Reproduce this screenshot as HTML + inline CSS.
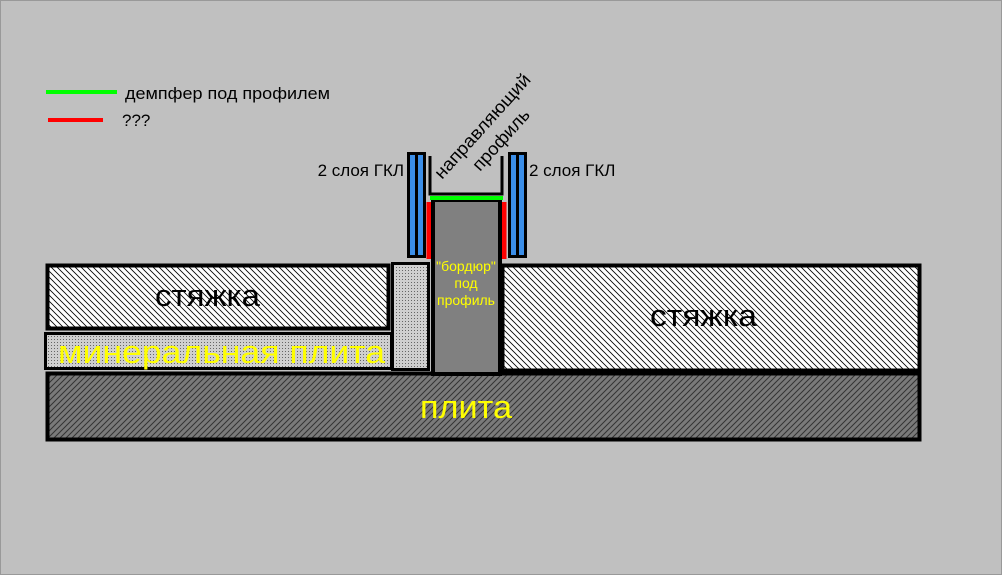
<!DOCTYPE html>
<html><head><meta charset="utf-8"><style>
html,body{margin:0;padding:0;background:#c0c0c0;}
svg{display:block;font-family:"Liberation Sans","DejaVu Sans",sans-serif;}
</style></head><body>
<svg width="1002" height="575" viewBox="0 0 1002 575" xmlns="http://www.w3.org/2000/svg">
<defs>
<pattern id="hw" width="6" height="6" patternUnits="userSpaceOnUse">
<rect width="6" height="6" fill="#fff"/>
<path d="M0,0 L6,6 M-3,3 L3,9 M3,-3 L9,3" stroke="#000" stroke-width="0.8"/>
</pattern>
<pattern id="hd" width="6" height="6" patternUnits="userSpaceOnUse">
<rect width="6" height="6" fill="#7a7a7a"/>
<path d="M0,6 L6,0 M-3,3 L3,-3 M3,9 L9,3" stroke="#333" stroke-width="1"/>
</pattern>
<pattern id="dt" width="3" height="3" patternUnits="userSpaceOnUse">
<rect width="3" height="3" fill="#cfcfcf"/>
<rect x="0" y="0" width="1" height="1" fill="#666"/>
</pattern>
</defs>
<rect x="0.5" y="0.5" width="1001" height="574" fill="#c0c0c0" stroke="#999"/>
<!-- legend -->
<line x1="46" y1="92" x2="117" y2="92" stroke="#00ff00" stroke-width="4"/>
<line x1="48" y1="120" x2="103" y2="120" stroke="#ff0000" stroke-width="4"/>
<text x="125" y="99" font-size="17" fill="#000" textLength="205" lengthAdjust="spacingAndGlyphs">демпфер под профилем</text>
<text x="122" y="126" font-size="17" fill="#000">???</text>
<!-- plita -->
<rect x="47.5" y="373.5" width="872" height="66" fill="url(#hd)" stroke="#000" stroke-width="4"/>
<text x="420" y="418" font-size="32" fill="#ffff00" textLength="92" lengthAdjust="spacingAndGlyphs">плита</text>
<!-- left screed -->
<rect x="47.5" y="265.5" width="341" height="63" fill="url(#hw)" stroke="#000" stroke-width="4"/>
<text x="155" y="306" font-size="31" fill="#000" textLength="105" lengthAdjust="spacingAndGlyphs">стяжка</text>
<!-- mineral -->
<rect x="45.5" y="333.5" width="346" height="35" fill="url(#dt)" stroke="#000" stroke-width="3"/>
<text x="58" y="363" font-size="32" fill="#ffff00" textLength="327" lengthAdjust="spacingAndGlyphs">минеральная  плита</text>
<!-- dotted column -->
<rect x="392.5" y="263.5" width="36" height="106" fill="url(#dt)" stroke="#000" stroke-width="3"/>
<!-- right screed -->
<rect x="502.5" y="265.5" width="417" height="105" fill="url(#hw)" stroke="#000" stroke-width="4"/>
<text x="650" y="326" font-size="31" fill="#000" textLength="107" lengthAdjust="spacingAndGlyphs">стяжка</text>
<!-- border -->
<rect x="433" y="200" width="67" height="174" fill="#808080" stroke="#000" stroke-width="4"/>
<text x="466" y="271" font-size="14" fill="#ffff00" text-anchor="middle">"бордюр"</text>
<text x="466" y="288" font-size="14" fill="#ffff00" text-anchor="middle">под</text>
<text x="466" y="305" font-size="14" fill="#ffff00" text-anchor="middle">профиль</text>
<!-- GKL left -->
<rect x="407" y="152" width="19" height="106" fill="#000"/>
<rect x="410" y="155" width="5" height="100" fill="#3b8ee8"/>
<rect x="418" y="155" width="5" height="100" fill="#3b8ee8"/>
<!-- GKL right -->
<rect x="508" y="152" width="19" height="106" fill="#000"/>
<rect x="511" y="155" width="5" height="100" fill="#3b8ee8"/>
<rect x="519" y="155" width="5" height="100" fill="#3b8ee8"/>
<!-- channel -->
<path d="M430,156 V194 H502 V156" fill="none" stroke="#000" stroke-width="3"/>
<line x1="430" y1="198" x2="503" y2="198" stroke="#00ff00" stroke-width="4"/>
<rect x="426.5" y="202" width="4.5" height="57" fill="#ff0000"/>
<rect x="502" y="202" width="4.5" height="57" fill="#ff0000"/>
<!-- labels -->
<text x="404" y="176" font-size="17" fill="#000" text-anchor="end">2 слоя ГКЛ</text>
<text x="529" y="176" font-size="17" fill="#000">2 слоя ГКЛ</text>
<text transform="translate(442,180) rotate(-48)" font-size="18" fill="#000" textLength="134" lengthAdjust="spacingAndGlyphs">направляющий</text>
<text transform="translate(480,172) rotate(-48)" font-size="18" fill="#000" textLength="76" lengthAdjust="spacingAndGlyphs">профиль</text>
</svg>
</body></html>
